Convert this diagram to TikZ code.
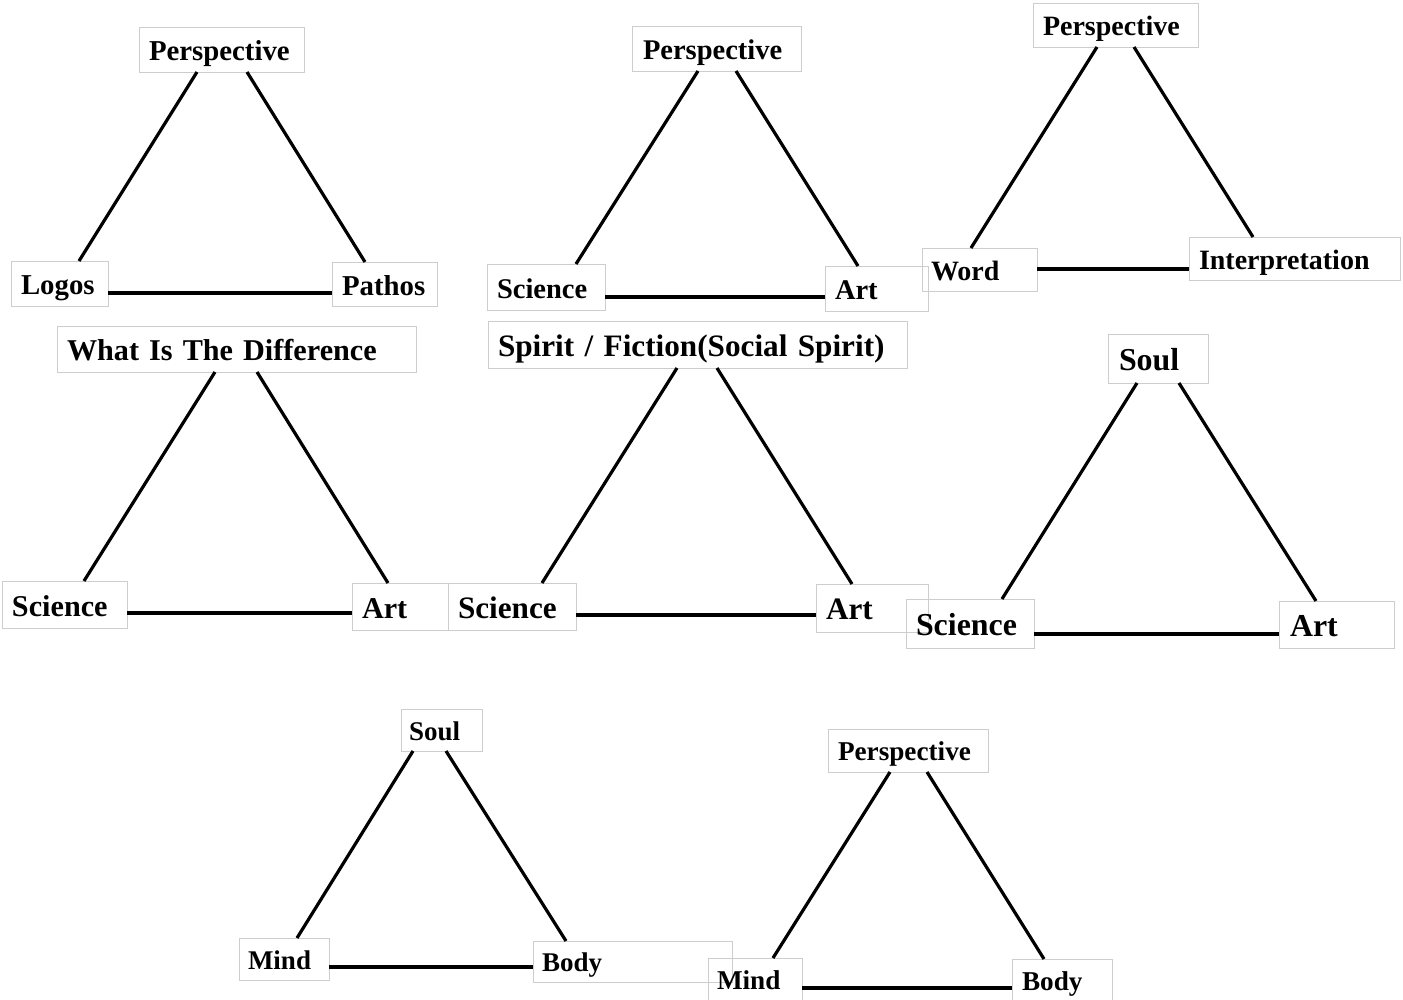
\documentclass[tikz,border=0pt]{standalone}
\usepackage{fontspec}
\setmainfont{Liberation Serif}
\definecolor{boxgray}{RGB}{205,205,205}
\newcommand\fsz[1]{\fontsize{#1}{#1}\selectfont\bfseries}
\begin{document}
\begin{tikzpicture}[x=1pt,y=-1pt,
  lbl/.style={draw=boxgray, line width=1pt, anchor=north west, inner ysep=0pt, outer sep=0pt, align=left},
  edge/.style={line width=3.2pt, black},
  base/.style={line width=3.5pt, black},
  t1/.style={font=\fsz{28.8}, text height=29.4, text depth=7.2},
  t2/.style={font=\fsz{28.5}, text height=29.1, text depth=7.1},
  t3/.style={font=\fsz{28}, text height=28.2, text depth=7},
  t4/.style={font=\fsz{30.2}, text height=30.8, text depth=7.6},
  t5/.style={font=\fsz{31.2}, text height=31.5, text depth=7.9},
  t6/.style={font=\fsz{31.9}, text height=32.3, text depth=8},
  t7/.style={font=\fsz{27}, text height=27.3, text depth=6.8},
  t8/.style={font=\fsz{27.2}, text height=27.4, text depth=6.8}]
\useasboundingbox (0,0) rectangle (1403,999);
\clip (0,0) rectangle (1403,999);
\fill[white] (0,0) rectangle (1403,999);

% Triangle 1
\node[lbl,t1,text width=145,inner xsep=10,minimum height=45] (a1) at (139,27) {Perspective};
\node[lbl,t1,text width=77,inner xsep=10,minimum height=45] (l1) at (11,261) {Logos};
\node[lbl,t1,text width=85,inner xsep=10,minimum height=44] (r1) at (332,262) {Pathos};
\draw[edge] ([xshift=58]a1.south west) -- ([xshift=68]l1.north west);
\draw[edge] ([xshift=108]a1.south west) -- ([xshift=33]r1.north west);
\draw[base] ([yshift=-32]l1.north east) -- ([yshift=-31]r1.north west);

% Triangle 2
\node[lbl,t2,text width=147,inner xsep=11,minimum height=45] (a2) at (632,26) {Perspective};
\node[lbl,t2,text width=98,inner xsep=10,minimum height=46] (l2) at (487,264) {Science};
\node[lbl,t2,text width=83,inner xsep=10,minimum height=45] (r2) at (825,266) {Art};
\draw[edge] ([xshift=66]a2.south west) -- ([xshift=89]l2.north west);
\draw[edge] ([xshift=104]a2.south west) -- ([xshift=33]r2.north west);
\draw[base] ([yshift=-33]l2.north east) -- ([yshift=-31]r2.north west);

% Triangle 3
\node[lbl,t3,text width=145,inner xsep=10,minimum height=44] (a3) at (1033,3) {Perspective};
\node[lbl,t3,text width=97,inner xsep=9,minimum height=43] (l3) at (922,248) {Word};
\node[lbl,t3,text width=191,inner xsep=10,minimum height=43] (r3) at (1189,237) {Interpretation};
\draw[edge] ([xshift=64]a3.south west) -- ([xshift=49]l3.north west);
\draw[edge] ([xshift=101]a3.south west) -- ([xshift=64]r3.north west);
\draw[base] ([yshift=-21]l3.north east) -- ([yshift=-32]r3.north west);

% Triangle 4
\node[lbl,t4,text width=339,inner xsep=10,minimum height=46] (a4) at (57,326) {\mbox{What Is The Difference}};
\node[lbl,t4,text width=105,inner xsep=10,minimum height=47] (l4) at (2,581) {Science};
\node[lbl,t4,text width=76,inner xsep=10,minimum height=47] (r4) at (352,583) {Art};
\draw[edge] ([xshift=158]a4.south west) -- ([xshift=82]l4.north west);
\draw[edge] ([xshift=200]a4.south west) -- ([xshift=36]r4.north west);
\draw[base] ([yshift=-32]l4.north east) -- ([yshift=-30]r4.north west);

% Triangle 5
\node[lbl,t5,text width=399,inner xsep=10,minimum height=47] (a5) at (488,321) {\mbox{Spirit / Fiction(Social Spirit)}};
\node[lbl,t5,text width=108,inner xsep=10,minimum height=47] (l5) at (448,583) {Science};
\node[lbl,t5,text width=92,inner xsep=10,minimum height=48] (r5) at (816,584) {Art};
\draw[edge] ([xshift=189]a5.south west) -- ([xshift=94]l5.north west);
\draw[edge] ([xshift=229]a5.south west) -- ([xshift=36]r5.north west);
\draw[base] ([yshift=-32]l5.north east) -- ([yshift=-31]r5.north west);

% Triangle 6
\node[lbl,t6,text width=78,inner xsep=11,minimum height=49] (a6) at (1108,334) {Soul};
\node[lbl,t6,text width=108,inner xsep=10,minimum height=49] (l6) at (906,599) {Science};
\node[lbl,t6,text width=93,inner xsep=11,minimum height=47] (r6) at (1279,601) {Art};
\draw[edge] ([xshift=29]a6.south west) -- ([xshift=96]l6.north west);
\draw[edge] ([xshift=71]a6.south west) -- ([xshift=37]r6.north west);
\draw[base] ([yshift=-35]l6.north east) -- ([yshift=-33]r6.north west);

% Triangle 7
\node[lbl,t7,text width=65,inner xsep=8,minimum height=42] (a7) at (401,709) {Soul};
\node[lbl,t7,text width=72,inner xsep=9,minimum height=42] (l7) at (239,938) {Mind};
\node[lbl,t7,text width=181,inner xsep=9,minimum height=41] (r7) at (533,941) {Body};
\draw[edge] ([xshift=12]a7.south west) -- ([xshift=58]l7.north west);
\draw[edge] ([xshift=45]a7.south west) -- ([xshift=33]r7.north west);
\draw[base] ([yshift=-29]l7.north east) -- ([yshift=-26]r7.north west);

% Triangle 8
\node[lbl,t8,text width=140,inner xsep=10,minimum height=43] (a8) at (828,729) {Perspective};
\node[lbl,t8,text width=76,inner xsep=9,minimum height=43] (l8) at (708,958) {Mind};
\node[lbl,t8,text width=80,inner xsep=10,minimum height=43] (r8) at (1012,959) {Body};
\draw[edge] ([xshift=62]a8.south west) -- ([xshift=65]l8.north west);
\draw[edge] ([xshift=99]a8.south west) -- ([xshift=32]r8.north west);
\draw[base] ([yshift=-30]l8.north east) -- ([yshift=-29]r8.north west);
\end{tikzpicture}
\end{document}
